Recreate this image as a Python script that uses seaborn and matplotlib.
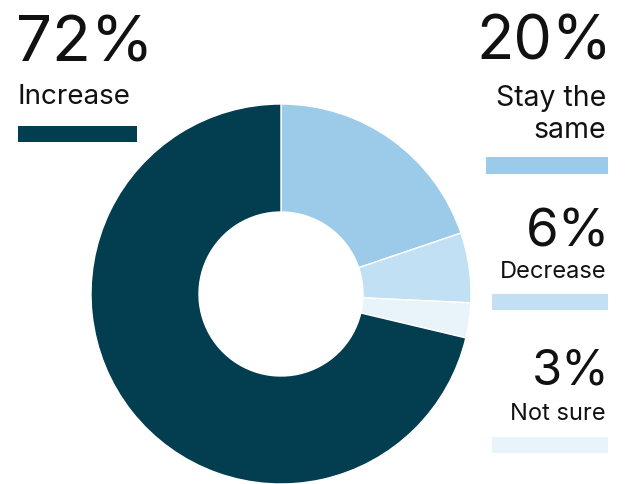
import seaborn as sns
import matplotlib.pyplot as plt
from matplotlib.patches import Rectangle

labels = ["Stay the\nsame", "Decrease", "Not sure", "Increase"]
values = [20, 6, 3, 72]
pct_text = ["20%", "6%", "3%", "72%"]
colors = ["#9ccbe9", "#c2e0f3", "#e8f3fa", "#023d50"]

sns.set_theme(style="white")
plt.rcParams['font.family'] = ['Inter', 'DejaVu Sans']

W, H = 626, 485
fig = plt.figure(figsize=(W / 100, H / 100), dpi=100)

# donut axes: centre (281, 295) px, radius 190 px
cx, cy, r = 281, 295, 190
ax = fig.add_axes([(cx - r) / W, (H - cy - r) / H, 2 * r / W, 2 * r / H])
ax.pie(values, colors=colors, startangle=90, counterclock=False,
       radius=1, wedgeprops=dict(width=1 - 82 / 190, edgecolor="white", linewidth=1))
ax.set_xlim(-1, 1)
ax.set_ylim(-1, 1)
ax.set_aspect("equal")
ax.axis("off")


def px(x, y):
    return x / W, (H - y) / H


ink = "#111111"
num_kw = dict(va="baseline", color=ink)
lab_kw = dict(va="baseline", color=ink)

# Increase (left)
fig.text(*px(16, 62), pct_text[3], fontsize=46, ha="left", **num_kw)
fig.text(*px(18, 104), labels[3], fontsize=20, ha="left", **lab_kw)
fig.add_artist(Rectangle(px(18, 143), 119 / W, 16 / H, transform=fig.transFigure,
                         color=colors[3], lw=0))

# right column
right = 606
fig.text(*px(right + 6, 60), pct_text[0], fontsize=44, ha="right", **num_kw)
fig.text(*px(right, 106), "Stay the", fontsize=20.5, ha="right", **lab_kw)
fig.text(*px(right, 138), "same", fontsize=20.5, ha="right", **lab_kw)
fig.add_artist(Rectangle(px(486, 175), 122 / W, 17 / H, transform=fig.transFigure,
                         color=colors[0], lw=0))

fig.text(*px(right + 4, 247), pct_text[1], fontsize=38, ha="right", **num_kw)
fig.text(*px(right, 278), labels[1], fontsize=17, ha="right", **lab_kw)
fig.add_artist(Rectangle(px(492, 311), 116 / W, 16 / H, transform=fig.transFigure,
                         color=colors[1], lw=0))

fig.text(*px(right + 4, 385), pct_text[2], fontsize=35, ha="right", **num_kw)
fig.text(*px(right, 420), labels[2], fontsize=17, ha="right", **lab_kw)
fig.add_artist(Rectangle(px(492, 454), 116 / W, 16 / H, transform=fig.transFigure,
                         color=colors[2], lw=0))

fig.savefig("out.png", dpi=100, facecolor="white")
